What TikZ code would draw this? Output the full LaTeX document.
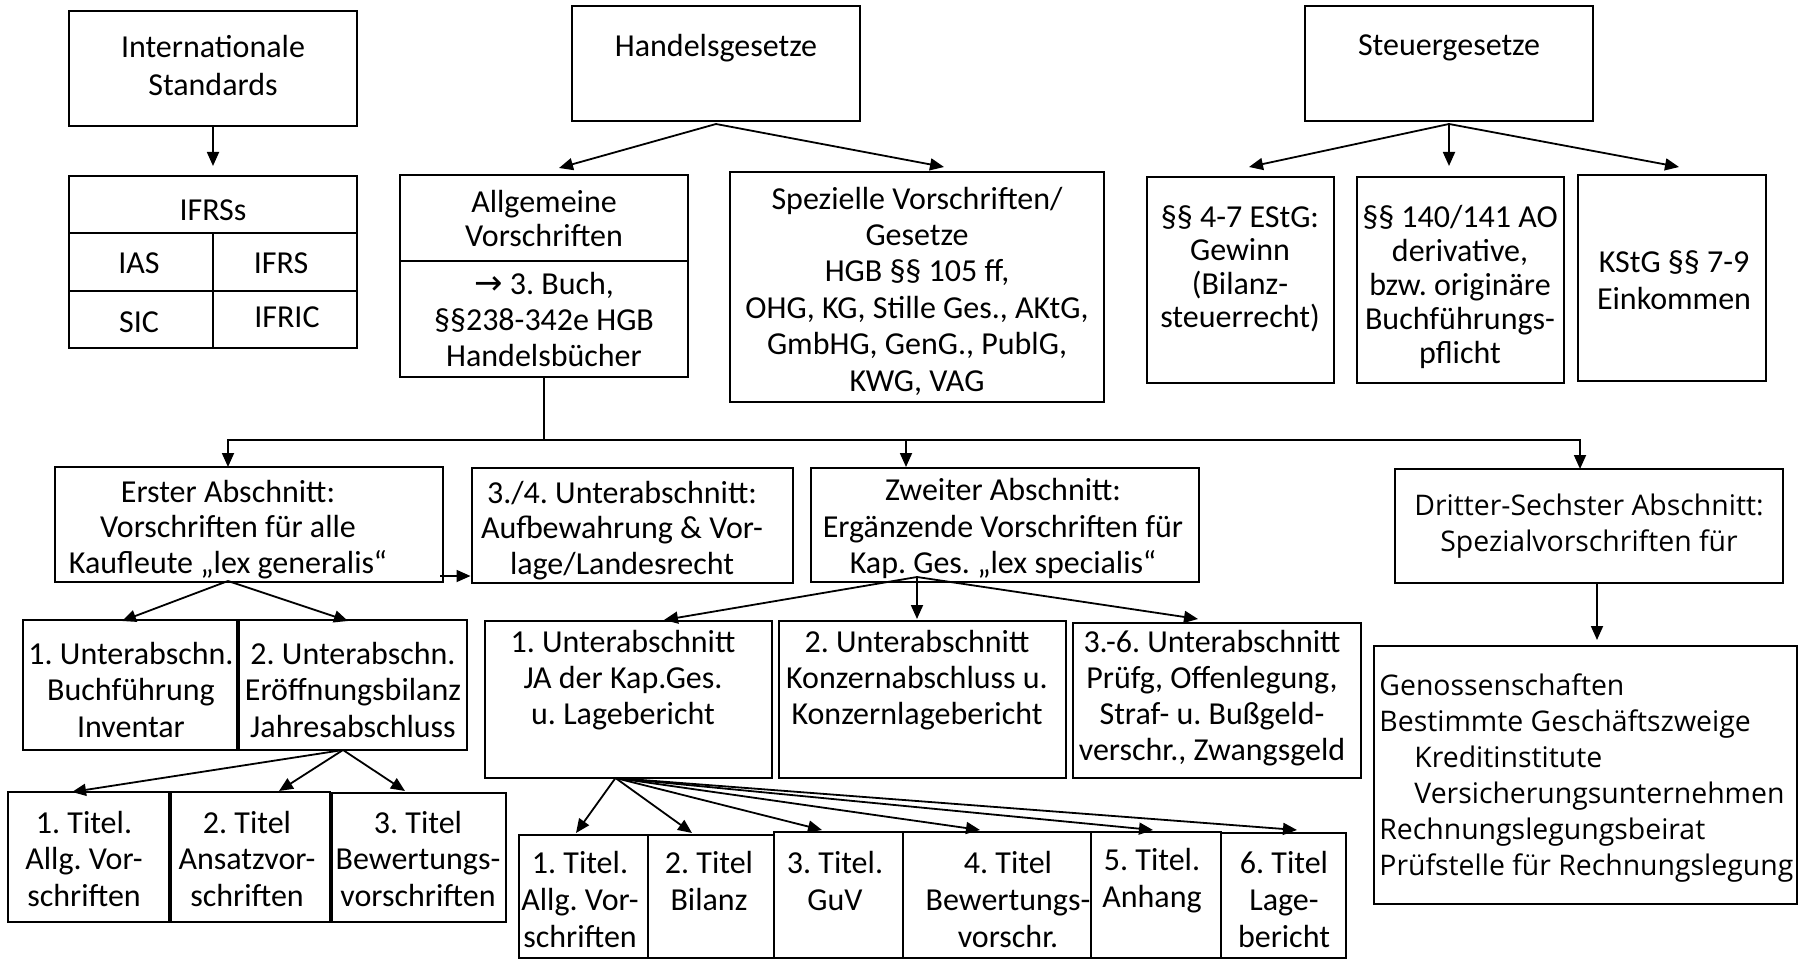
\documentclass[tikz,border=0pt]{standalone}
\usepackage{fontspec}
\setmainfont{Carlito}
\newfontfamily\widefont{Open Sans}
\newfontfamily\symfont{DejaVu Sans}
\usetikzlibrary{arrows.meta,fit}
\frenchspacing

% a framed rectangle spanning two corner points
\newcommand\mkbox[5]{%
  \coordinate (#1-a) at (#2,#3);
  \coordinate (#1-b) at (#4,#5);
  \node[frame, fit=(#1-a)(#1-b)] (#1) {};}

\tikzset{
  frame/.style={draw, line width=1pt, inner sep=0pt},
  lbl/.style={inner sep=0pt, align=center, font=\fontsize{16pt}{#1}\selectfont},
  lbl/.default=18pt,
  wl/.style={inner sep=0pt, align=left, anchor=west,
    font=\widefont\fontsize{14.2pt}{#1}\selectfont},
  wl/.default=18pt,
  wc/.style={inner sep=0pt, align=center,
    font=\widefont\fontsize{14.2pt}{#1}\selectfont},
  wc/.default=17.8pt,
  ln/.style={line width=1pt},
  arr/.style={line width=0.9pt, -{Triangle[length=7pt,width=6pt]}},
}

\begin{document}
\begin{tikzpicture}[x=0.5pt,y=-0.5pt]
\useasboundingbox[fill=white] (0,0) rectangle (1798,962);

% ---------- international standards ----------
\mkbox{intl}{69}{11}{357}{126}
\node[lbl=19pt] (intl-t) at (213,66) {Internationale\\Standards};
\mkbox{ifrshead}{69}{176}{357}{233}
\mkbox{ias}{69}{233}{213}{291}
\mkbox{ifrsc}{213}{233}{357}{291}
\mkbox{sic}{69}{291}{213}{348}
\mkbox{ifric}{213}{291}{357}{348}
\node[lbl] (ifrshead-t) at (213,210) {IFRSs};
\node[lbl] (ias-t) at (139,263) {IAS};
\node[lbl] (ifrsc-t) at (281,263) {IFRS};
\node[lbl] (sic-t) at (139,322) {SIC};
\node[lbl] (ifric-t) at (287,317) {IFRIC};
\draw[arr, shorten >=4.5pt] (intl) -- (ifrshead);

% ---------- commercial law ----------
\mkbox{hg}{572}{6}{860}{121}
\node[lbl] (hg-t) at (716,48) {Handelsgesetze};
\coordinate (hgo) at (716,124);
\coordinate (hg1) at (559,168);
\coordinate (hg2) at (944,167);
\draw[arr] (hgo) -- (hg1);
\draw[arr] (hgo) -- (hg2);

\mkbox{allgA}{400}{175}{688}{261}
\mkbox{allgB}{400}{261}{688}{377}
\node[lbl=16.7pt] (allgA-t) at (544,218.5) {Allgemeine\\Vorschriften};
\node[lbl=18pt] (allgB-t) at (544,320)
  {{\symfont\fontsize{17pt}{17pt}\selectfont →} 3. Buch,\\§§238-342e HGB\\Handelsbücher};

\mkbox{spez}{730}{172}{1104}{402}
\node[lbl=18.2pt] (spez-t) at (917,291)
  {Spezielle Vorschriften/\\Gesetze\\HGB §§ 105 ff,\\OHG, KG, Stille Ges., AKtG,\\GmbHG, GenG., PublG,\\KWG, VAG};

% ---------- tax law ----------
\mkbox{st}{1305}{6}{1593}{121}
\node[lbl] (st-t) at (1449,48) {Steuergesetze};
\coordinate (sto) at (1449,124);
\coordinate (st1) at (1249,167);
\coordinate (st2) at (1449,166);
\coordinate (st3) at (1679,167);
\draw[arr] (sto) -- (st1);
\draw[arr] (sto) -- (st2);
\draw[arr] (sto) -- (st3);

\mkbox{estg}{1147}{177}{1334}{383}
\node[lbl=16.7pt] (estg-t) at (1240,269) {§§ 4-7 EStG:\\Gewinn\\(Bilanz-\\steuerrecht)};
\mkbox{ao}{1357}{177}{1564}{383}
\node[lbl=17pt] (ao-t) at (1460,287) {§§ 140/141 AO\\derivative,\\bzw. originäre\\Buchführungs-\\pflicht};
\mkbox{kstg}{1578}{175}{1766}{381}
\node[lbl=18.3pt] (kstg-t) at (1674,280) {KStG §§ 7-9\\Einkommen};

% ---------- distribution line below the general rules ----------
\coordinate (bus) at (544,440);
\coordinate (er-in) at (228,467);
\coordinate (zw-in) at (906,467);
\coordinate (dr-in) at (1580,469);
\draw[ln] (bus |- allgB.south) -- (bus);
\draw[arr] (bus) -| (er-in);
\draw[arr] (bus) -| (dr-in);
\draw[arr] (zw-in |- bus) -- (zw-in);

% ---------- sections ----------
\mkbox{erster}{55}{467}{443}{582}
\node[lbl=17.8pt] (erster-t) at (228,529.5) {Erster Abschnitt:\\Vorschriften für alle\\Kaufleute „lex generalis“};
\mkbox{ufa}{471.5}{468}{793}{583}
\node[lbl=17.8pt] (ufa-t) at (622,530.5) {3./4. Unterabschnitt:\\Aufbewahrung \& Vor-\\lage/Landesrecht};
\coordinate (er-out) at (440,576);
\draw[arr] (er-out) -- (er-out -| ufa.west);

\mkbox{zw}{811}{468}{1199}{582}
\node[lbl=18.4pt] (zw-t) at (1003,528.5) {Zweiter Abschnitt:\\Ergänzende Vorschriften für\\Kap. Ges. „lex specialis“};

\mkbox{dr}{1395}{469}{1783}{583}
\node[wc] (dr-t) at (1589,526) {Dritter-Sechster Abschnitt:\\Spezialvorschriften für};
\coordinate (dr-out) at (1597,583);
\coordinate (gen-in) at (1597,640);
\draw[arr] (dr-out) -- (gen-in);

\mkbox{gen}{1373.5}{646}{1797}{904}
\node[wl] (gen-t) at (1379,778)
  {Genossenschaften\\Bestimmte Geschäftszweige\\\hspace*{17.5pt}Kreditinstitute\\\hspace*{17.5pt}Versicherungsunternehmen\\Rechnungslegungsbeirat\\Prüfstelle für Rechnungslegung};

% ---------- first section: sub-sections and titles ----------
\coordinate (er-o) at (228,581);
\coordinate (u1-in) at (122,621);
\coordinate (u2-in) at (348,621);
\draw[arr] (er-o) -- (u1-in);
\draw[arr] (er-o) -- (u2-in);

\mkbox{u1}{23}{620}{237}{750}
\mkbox{u2}{239}{620}{467}{750}
\node[lbl=18.3pt] (u1-t) at (131,690) {1. Unterabschn.\\Buchführung\\Inventar};
\node[lbl=18.3pt] (u2-t) at (353,690) {2. Unterabschn.\\Eröffnungsbilanz\\Jahresabschluss};

\coordinate (u2-o) at (343,750);
\coordinate (ti1-in) at (72,792);
\coordinate (ti2-in) at (279,791);
\coordinate (ti3-in) at (405,791);
\draw[arr] (u2-o) -- (ti1-in);
\draw[arr] (u2-o) -- (ti2-in);
\draw[arr] (u2-o) -- (ti3-in);

\mkbox{ti1}{8}{792}{168.5}{922}
\mkbox{ti2}{170.5}{792}{330}{922}
\mkbox{ti3}{332}{793}{506}{922}
\node[lbl=18.3pt] (ti1-t) at (84,859) {1. Titel.\\Allg. Vor-\\schriften};
\node[lbl=18.3pt] (ti2-t) at (247,859) {2. Titel\\Ansatzvor-\\schriften};
\node[lbl=18.3pt] (ti3-t) at (418,859) {3. Titel\\Bewertungs-\\vorschriften};

% ---------- second section: sub-sections and titles ----------
\coordinate (zw-o) at (917,577);
\coordinate (ja-in) at (664,620);
\coordinate (kz-in) at (917,619);
\coordinate (pr-in) at (1198,619);
\draw[arr] (zw-o) -- (ja-in);
\draw[arr] (zw-o) -- (kz-in);
\draw[arr] (zw-o) -- (pr-in);

\mkbox{ja}{484.5}{620.5}{772}{778}
\mkbox{kz}{779}{620.5}{1066}{778}
\mkbox{pr}{1073}{623}{1361}{778}
\node[lbl=18pt] (ja-t) at (623,680) {1. Unterabschnitt\\JA der Kap.Ges.\\u. Lagebericht};
\node[lbl=18pt] (kz-t) at (917,680) {2. Unterabschnitt\\Konzernabschluss u.\\Konzernlagebericht};
\node[lbl=18pt] (pr-t) at (1212,698) {3.-6. Unterabschnitt\\Prüfg, Offenlegung,\\Straf- u. Bußgeld-\\verschr., Zwangsgeld};

\coordinate (ja-o) at (615.5,778);
\coordinate (b1-in) at (576,833);
\coordinate (b2-in) at (692,833);
\coordinate (b3-in) at (822,830);
\coordinate (b4-in) at (980,830);
\coordinate (b5-in) at (1153,830);
\coordinate (b6-in) at (1297,830);
\foreach \t in {b1,b2,b3,b4,b5,b6} \draw[arr] (ja-o) -- (\t-in);

\mkbox{b1}{519}{835}{648}{958}
\mkbox{b2}{648}{835}{774}{958}
\mkbox{b3}{774}{832}{903}{958}
\mkbox{b4}{903}{832}{1091}{958}
\mkbox{b5}{1091}{832}{1221}{958}
\mkbox{b6}{1221}{833}{1346}{958}
\node[lbl=18.5pt] (b1-t) at (580,899.5) {1. Titel.\\Allg. Vor-\\schriften};
\node[lbl=18.5pt] (b2-t) at (709,881) {2. Titel\\Bilanz};
\node[lbl=18.5pt] (b3-t) at (835,881) {3. Titel.\\GuV};
\node[lbl=18.5pt] (b4-t) at (1008,899.5) {4. Titel\\Bewertungs-\\vorschr.};
\node[lbl=18.5pt] (b5-t) at (1152,881) {5. Titel.\\Anhang};
\node[lbl=18.5pt] (b6-t) at (1284,899.5) {6. Titel\\Lage-\\bericht};
\end{tikzpicture}
\end{document}
